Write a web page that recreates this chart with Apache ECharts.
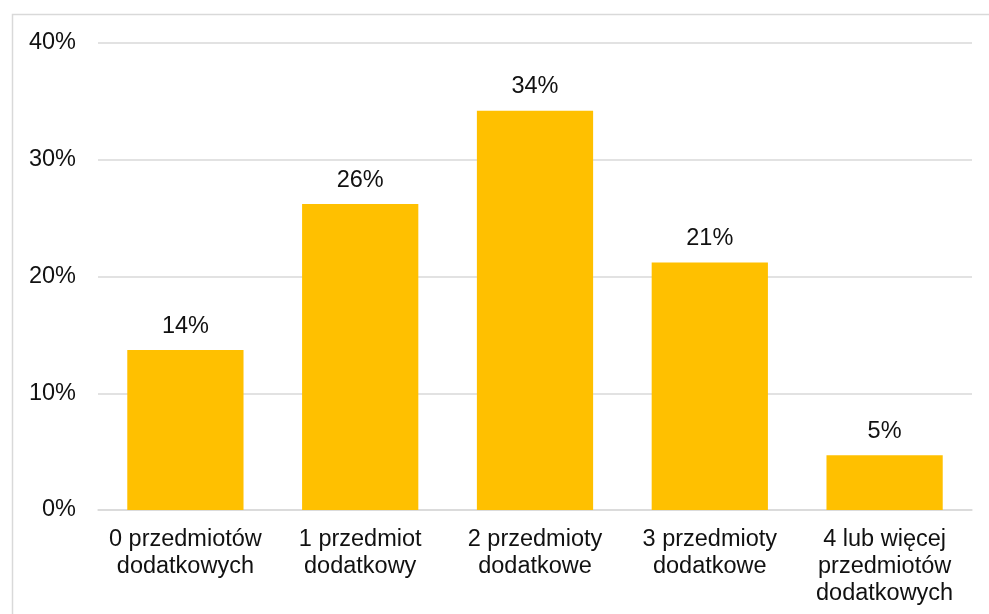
<!DOCTYPE html>
<html><head><meta charset="utf-8">
<script src="https://cdn.jsdelivr.net/npm/echarts@6/dist/echarts.min.js"></script>
<style>html,body{margin:0;padding:0;background:#fff}#c{width:989px;height:614px}</style>
</head><body><div id="c"></div>
<script>
const categories = ['0 przedmiotów\ndodatkowych', '1 przedmiot\ndodatkowy', '2 przedmioty\ndodatkowe', '3 przedmioty\ndodatkowe', '4 lub więcej\nprzedmiotów\ndodatkowych'];
const values = [13.7, 26.2, 34.2, 21.2, 4.7];
const labels = ['14%', '26%', '34%', '21%', '5%'];
const chart = echarts.init(document.getElementById('c'));
const font = 'Liberation Sans, Arial, sans-serif';
chart.setOption({
  animation: false,
  graphic: [{type:'rect', shape:{x:12.5, y:14.5, width:990, height:620}, style:{fill:'none', stroke:'#d9d9d9', lineWidth:1.5}}],
  grid: {left: 98, right: 17, top: 43, bottom: 104},
  xAxis: {
    type: 'category', data: categories,
    axisLine: {lineStyle: {color: '#d9d9d9', width: 1.5}},
    axisTick: {show: false},
    axisLabel: {color: '#111', fontFamily: font, fontSize: 23.5, lineHeight: 27, margin: 16, interval: 0}
  },
  yAxis: {
    type: 'value', min: 0, max: 40, interval: 10,
    axisLabel: {formatter: '{value}%', color: '#111', fontFamily: font, fontSize: 23.5, margin: 22},
    splitLine: {lineStyle: {color: '#d9d9d9', width: 1.5}},
    axisLine: {show: false}, axisTick: {show: false}
  },
  series: [{
    type: 'bar', data: values, barWidth: '66.5%',
    itemStyle: {color: '#FFC000'},
    label: {show: true, position: 'top', distance: 12, color: '#111', fontFamily: font, fontSize: 23.5,
      formatter: p => labels[p.dataIndex]}
  }]
});
</script></body></html>
